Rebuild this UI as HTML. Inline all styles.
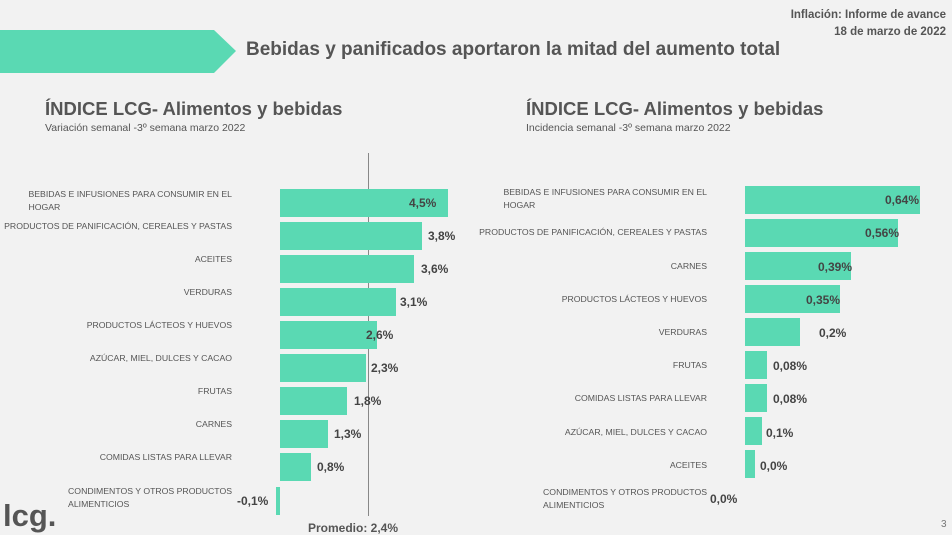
<!DOCTYPE html>
<html><head><meta charset="utf-8"><style>
*{margin:0;padding:0}
body{width:952px;height:535px;background:#f2f2f2;position:relative;overflow:hidden;font-family:"Liberation Sans","DejaVu Sans",sans-serif;color:#555}
div{position:absolute;white-space:nowrap}
.b{background:#5ad9b3}
.l{font-size:8.7px;color:#555;text-align:right;line-height:13px}
.v{font-size:12px;font-weight:bold;color:#444}
.t{font-size:18.5px;font-weight:bold;color:#555}
.s{font-size:10.5px;color:#555}
</style></head><body>
<svg style="position:absolute;left:0;top:0" width="240" height="80"><polygon points="0,30 214,30 236,51 214,73 0,73" fill="#5ad9b3"/></svg>
<div style="left:246px;top:39px;font-size:19px;font-weight:bold;color:#555">Bebidas y panificados aportaron la mitad del aumento total</div>
<div style="right:6px;top:7px;font-size:11.5px;font-weight:bold;color:#555;text-align:right;line-height:17px">Inflación: Informe de avance<br>18 de marzo de 2022</div>
<div class="t" style="left:45px;top:98px">ÍNDICE LCG- Alimentos y bebidas</div>
<div class="s" style="left:45px;top:122px">Variación semanal -3º semana marzo 2022</div>
<div class="t" style="left:526px;top:98px">ÍNDICE LCG- Alimentos y bebidas</div>
<div class="s" style="left:526px;top:122px">Incidencia semanal -3º semana marzo 2022</div>

<div style="left:368px;top:153px;width:1px;height:363px;background:#888"></div>
<div style="left:308px;top:521px;font-size:12px;font-weight:bold;color:#555">Promedio: 2,4%</div>
<div style="left:3px;top:498px;font-size:31px;font-weight:bold;color:#555">lcg.</div>
<div style="left:941px;top:519px;font-size:10px;color:#777">3</div>

<div class="b" style="left:280px;top:189px;width:168px;height:28px"></div>
<div class="b" style="left:280px;top:222px;width:142px;height:28px"></div>
<div class="b" style="left:280px;top:255px;width:134px;height:28px"></div>
<div class="b" style="left:280px;top:288px;width:116px;height:28px"></div>
<div class="b" style="left:280px;top:321px;width:97px;height:28px"></div>
<div class="b" style="left:280px;top:354px;width:86px;height:28px"></div>
<div class="b" style="left:280px;top:387px;width:67px;height:28px"></div>
<div class="b" style="left:280px;top:420px;width:48px;height:28px"></div>
<div class="b" style="left:280px;top:453px;width:31px;height:28px"></div>
<div class="b" style="left:276px;top:487px;width:4px;height:28px"></div>

<div class="l" style="right:720px;top:188px;text-align:left">BEBIDAS E INFUSIONES PARA CONSUMIR EN EL<br>HOGAR</div>
<div class="l" style="right:720px;top:220px">PRODUCTOS DE PANIFICACIÓN, CEREALES Y PASTAS</div>
<div class="l" style="right:720px;top:253px">ACEITES</div>
<div class="l" style="right:720px;top:286px">VERDURAS</div>
<div class="l" style="right:720px;top:319px">PRODUCTOS LÁCTEOS Y HUEVOS</div>
<div class="l" style="right:720px;top:352px">AZÚCAR, MIEL, DULCES Y CACAO</div>
<div class="l" style="right:720px;top:385px">FRUTAS</div>
<div class="l" style="right:720px;top:418px">CARNES</div>
<div class="l" style="right:720px;top:451px">COMIDAS LISTAS PARA LLEVAR</div>
<div class="l" style="right:720px;top:485px;text-align:left">CONDIMENTOS Y OTROS PRODUCTOS<br>ALIMENTICIOS</div>

<div class="v" style="left:409px;top:196px">4,5%</div>
<div class="v" style="left:428px;top:229px">3,8%</div>
<div class="v" style="left:421px;top:262px">3,6%</div>
<div class="v" style="left:400px;top:295px">3,1%</div>
<div class="v" style="left:366px;top:328px">2,6%</div>
<div class="v" style="left:371px;top:361px">2,3%</div>
<div class="v" style="left:354px;top:394px">1,8%</div>
<div class="v" style="left:334px;top:427px">1,3%</div>
<div class="v" style="left:317px;top:460px">0,8%</div>
<div class="v" style="left:237px;top:494px">-0,1%</div>

<div class="b" style="left:745px;top:186px;width:175px;height:28px"></div>
<div class="b" style="left:745px;top:219px;width:153px;height:28px"></div>
<div class="b" style="left:745px;top:252px;width:106px;height:28px"></div>
<div class="b" style="left:745px;top:285px;width:95px;height:28px"></div>
<div class="b" style="left:745px;top:318px;width:55px;height:28px"></div>
<div class="b" style="left:745px;top:351px;width:22px;height:28px"></div>
<div class="b" style="left:745px;top:384px;width:22px;height:28px"></div>
<div class="b" style="left:745px;top:417px;width:17px;height:28px"></div>
<div class="b" style="left:745px;top:450px;width:10px;height:28px"></div>

<div class="l" style="right:245px;top:186px;text-align:left">BEBIDAS E INFUSIONES PARA CONSUMIR EN EL<br>HOGAR</div>
<div class="l" style="right:245px;top:226px">PRODUCTOS DE PANIFICACIÓN, CEREALES Y PASTAS</div>
<div class="l" style="right:245px;top:260px">CARNES</div>
<div class="l" style="right:245px;top:293px">PRODUCTOS LÁCTEOS Y HUEVOS</div>
<div class="l" style="right:245px;top:326px">VERDURAS</div>
<div class="l" style="right:245px;top:359px">FRUTAS</div>
<div class="l" style="right:245px;top:392px">COMIDAS LISTAS PARA LLEVAR</div>
<div class="l" style="right:245px;top:426px">AZÚCAR, MIEL, DULCES Y CACAO</div>
<div class="l" style="right:245px;top:459px">ACEITES</div>
<div class="l" style="right:245px;top:486px;text-align:left">CONDIMENTOS Y OTROS PRODUCTOS<br>ALIMENTICIOS</div>

<div class="v" style="left:885px;top:193px">0,64%</div>
<div class="v" style="left:865px;top:226px">0,56%</div>
<div class="v" style="left:818px;top:260px">0,39%</div>
<div class="v" style="left:806px;top:293px">0,35%</div>
<div class="v" style="left:819px;top:326px">0,2%</div>
<div class="v" style="left:773px;top:359px">0,08%</div>
<div class="v" style="left:773px;top:392px">0,08%</div>
<div class="v" style="left:766px;top:426px">0,1%</div>
<div class="v" style="left:760px;top:459px">0,0%</div>
<div class="v" style="left:710px;top:492px">0,0%</div>
</body></html>
